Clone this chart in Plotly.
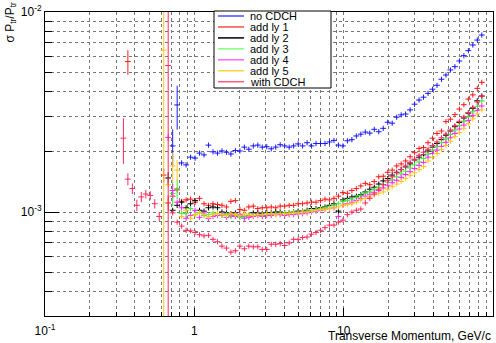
import plotly.graph_objects as go

# bin centres of transverse momentum (GeV/c), shared by all series
pt = [0.3350, 0.3589, 0.3846, 0.4121, 0.4416, 0.4732, 0.5070, 0.5433, 0.5821, 0.6237,
      0.6683, 0.7161, 0.7674, 0.8222, 0.8810, 0.9441, 1.0116, 1.0839, 1.1614, 1.2445,
      1.3335, 1.4289, 1.5311, 1.6406, 1.7579, 1.8836, 2.0184, 2.1627, 2.3174, 2.4831,
      2.6607, 2.8510, 3.0549, 3.2734, 3.5075, 3.7584, 4.0272, 4.3152, 4.6238, 4.9545,
      5.3088, 5.6885, 6.0954, 6.5313, 6.9984, 7.4989, 8.0353, 8.6099, 9.2257, 9.8855,
      10.593, 11.350, 12.162, 13.032, 13.964, 14.962, 16.032, 17.179, 18.408, 19.724,
      21.135, 22.646, 24.266, 26.002, 27.861, 29.854, 31.989, 34.277, 36.728, 39.355,
      42.170, 45.186, 48.417, 51.880, 55.590, 59.566, 63.826, 68.391, 73.282, 78.524,
      84.140]
FIRST_BIN = 17  # bin index of pt[0]

# sigma(Pt)/Pt in units of 1e-3 ; None = no point
no_cdch = [None] * 11 + [
    2.14, 3.43, 1.76, 1.72, 1.88, 1.86, 1.97, 1.93, 2.16, 2.00,
    1.97, 2.02, 1.99, 1.95, 2.03, 2.02, 2.11, 2.06, 2.14, 2.16,
    2.11, 2.12, 2.07, 2.11, 2.17, 2.14, 2.11, 2.14, 2.19, 2.14,
    2.22, 2.14, 2.20, 2.20, 2.20, 2.24, 2.28, 2.16, 2.14, 2.27,
    2.30, 2.40, 2.45, 2.51, 2.48, 2.59, 2.52, 2.62, 2.81, 2.78,
    2.98, 3.06, 3.09, 3.24, 3.46, 3.63, 3.75, 3.92, 4.11, 4.30,
    4.61, 4.84, 5.13, 5.33, 5.69, 6.05, 6.41, 6.84, 7.24, 7.67]
add_ly1 = [None, 5.65] + [None] * 7 + [1.53, 1.11] + [
    1.20, 1.29, 1.13, 1.15, 1.16, 1.12, 1.17, 1.10, 1.08, 1.10,
    1.09, 1.08, 1.06, 1.13, 1.14, 1.03, 1.02, 1.06, 1.07, 1.04,
    1.05, 1.05, 1.06, 1.05, 1.07, 1.07, 1.08, 1.08, 1.10, 1.10,
    1.11, 1.12, 1.12, 1.14, 1.16, 1.15, 1.17, 1.20, 1.25, 1.24,
    1.28, 1.31, 1.35, 1.39, 1.37, 1.42, 1.50, 1.51, 1.58, 1.62,
    1.70, 1.74, 1.80, 1.89, 1.98, 2.08, 2.10, 2.22, 2.34, 2.47,
    2.54, 2.83, 2.91, 3.07, 3.27, 3.44, 3.67, 3.85, 4.15, 4.45]
add_ly2 = [None] * 10 + [1.48] + [
    1.02, 1.08, 1.12, 1.05, 1.10, 1.14, 1.02, 1.01, 1.05, 1.06,
    1.05, 1.00, 0.99, 0.98, 0.99, 0.96, 0.95, 0.96, 0.99, 0.99,
    0.98, 0.99, 0.99, 1.00, 1.00, 0.99, 0.99, 1.00, 1.01, 1.01,
    1.02, 1.04, 1.04, 1.05, 1.06, 1.08, 1.10, 1.01, 1.15, 1.17,
    1.19, 1.20, 1.22, 1.26, 1.30, 1.33, 1.38, 1.43, 1.47, 1.53,
    1.58, 1.63, 1.68, 1.74, 1.82, 1.88, 1.93, 2.02, 2.11, 2.20,
    2.30, 2.42, 2.54, 2.67, 2.80, 2.95, 3.12, 3.30, 3.60, 3.80]
add_ly3 = [None] * 11 + [
    1.24, 1.31, 0.985, 0.98, 1.04, 0.97, 0.99, 0.96, 0.97, 0.99,
    0.98, 0.96, 0.97, 0.95, 0.96, 0.94, 0.95, 0.96, 0.95, 0.97,
    0.96, 0.98, 0.97, 0.98, 0.98, 0.99, 0.99, 1.00, 0.99, 1.00,
    1.01, 1.02, 1.03, 1.04, 1.05, 1.06, 1.08, 1.10, 1.13, 1.14,
    1.16, 1.18, 1.21, 1.24, 1.26, 1.29, 1.33, 1.37, 1.41, 1.45,
    1.50, 1.55, 1.60, 1.66, 1.72, 1.78, 1.85, 1.95, 2.04, 2.12,
    2.22, 2.32, 2.44, 2.57, 2.70, 2.84, 2.99, 3.17, 3.38, 3.59]
add_ly4 = [None] * 10 + [2.36] + [
    1.28, 1.12, 1.05, 0.93, 0.96, 1.02, 0.94, 0.99, 0.93, 0.95,
    0.96, 0.97, 0.94, 0.96, 0.95, 0.97, 0.93, 0.94, 0.95, 0.96,
    0.95, 0.96, 0.96, 0.97, 0.97, 0.96, 0.97, 0.97, 0.98, 0.98,
    0.99, 1.00, 1.01, 1.02, 1.03, 1.04, 1.05, 0.95, 1.08, 1.10,
    1.12, 1.14, 1.17, 1.20, 1.22, 1.25, 1.28, 1.32, 1.36, 1.40,
    1.44, 1.49, 1.54, 1.59, 1.65, 1.71, 1.77, 1.88, 1.96, 2.04,
    2.13, 2.23, 2.35, 2.47, 2.60, 2.72, 2.87, 3.03, 3.22, 3.39]
add_ly5 = [None] * 9 + [6.45, 1.37] + [
    1.70, 1.62, 0.95, 1.02, 0.93, 0.97, 0.99, 0.97, 0.95, 0.97,
    0.98, 0.97, 0.96, 0.98, 0.97, 0.96, 0.98, 0.97, 0.96, 0.97,
    0.97, 0.98, 0.98, 0.97, 0.98, 0.98, 0.98, 0.99, 0.99, 1.00,
    1.00, 1.01, 1.02, 1.03, 1.03, 1.04, 1.05, 1.06, 1.08, 1.09,
    1.10, 1.12, 1.15, 1.17, 1.19, 1.22, 1.24, 1.26, 1.30, 1.34,
    1.38, 1.42, 1.47, 1.52, 1.57, 1.63, 1.69, 1.80, 1.88, 1.96,
    2.05, 2.15, 2.26, 2.38, 2.50, 2.62, 2.76, 2.92, 3.09, 3.24]
with_cdch = [2.34, 1.46, 1.31, 1.08, 1.19, 1.23, 1.21, 1.10, 0.95, None, 5.40] + [
    0.99, 0.89, 0.85, 0.81, 0.805, 0.79, 0.77, 0.76, 0.765, 0.73,
    0.71, 0.675, 0.66, 0.63, 0.64, 0.675, 0.655, 0.675, 0.67, 0.67,
    0.65, 0.65, 0.69, 0.69, 0.695, 0.68, 0.70, 0.73, 0.73, 0.745,
    0.75, 0.775, 0.79, 0.81, 0.835, 0.86, 0.86, 0.89, 0.91, 0.97,
    1.00, 1.02, 1.035, 1.11, 1.17, 1.23, 1.30, 1.37, 1.44, 1.50,
    1.57, 1.63, 1.70, 1.77, 1.84, 1.92, 1.99, 2.06, 2.15, 2.24,
    2.35, 2.45, 2.57, 2.70, 2.84, 2.98, 3.14, 3.33, 3.55, 3.80]

# errors (1e-3 units) that differ from the typical ~3 % ones, keyed by bin index
big_err = {
    "no CDCH": {28: 0.45, 29: 0.85},
    "add ly 1": {18: 0.8, 26: 0.12, 27: 0.1},
    "add ly 2": {27: 0.1},
    "add ly 3": {28: 0.17, 29: 0.15},
    "add ly 4": {27: 0.1, 28: 0.1},
    "add ly 5": {26: 20.0, 28: 0.28, 29: 0.2},
    "with CDCH": {17: 0.6, 18: 0.1, 19: 0.08, 20: 0.07, 21: 0.07, 22: 0.06,
                  23: 0.06, 24: 0.06, 25: 0.05, 27: 20.0},
}
TYP_ERR = 0.03

series_names = ["no CDCH", "add ly 1", "add ly 2", "add ly 3", "add ly 4", "add ly 5", "with CDCH"]
series_vals = [no_cdch, add_ly1, add_ly2, add_ly3, add_ly4, add_ly5, with_cdch]
series_cols = ["#1a1aff", "#ff1a1a", "#000000", "#33ee33", "#ff22ff", "#ffc41a", "#ff2a5a"]
legend_cols = ["#4d4dff", "#ff4d4d", "#000000", "#80ff80", "#ff66ff", "#ffd040", "#ff5a80"]

fig = go.Figure()
for name, vals, col in zip(series_names, series_vals, series_cols):
    xs, ys, es = [], [], []
    for k, v in enumerate(vals):
        if v is None:
            continue
        b = FIRST_BIN + k
        xs.append(pt[k])
        ys.append(v * 1e-3)
        es.append(big_err[name].get(b, v * TYP_ERR) * 1e-3)
    fig.add_trace(go.Scatter(
        x=xs, y=ys, mode="markers", name=name, showlegend=False,
        marker=dict(size=1, color=col),
        error_y=dict(type="data", array=es, symmetric=True, color=col, thickness=1, width=0),
        error_x=dict(type="percent", value=4.5, color=col, thickness=1, width=0),
    ))

# axis geometry in pixels (for legend/annotation placement)
L, R, T, B = 45, 493, 12, 316
def PX(px):
    return (px - L) / (R - L)
def PY(py):
    return (B - py) / (B - T)

x_major = [0.1, 1, 10, 100]
x_major_txt = ["10<sup>-1</sup>", "1", "10", "10<sup>2</sup>"]
x_minor = [0.2, 0.3, 0.4, 0.5, 0.6, 0.7, 0.8, 0.9, 2, 3, 4, 5, 6, 7, 8, 9,
           20, 30, 40, 50, 60, 70, 80, 90]
y_major = [1e-3, 1e-2]
y_major_txt = ["10<sup>-3</sup>", "10<sup>-2</sup>"]
y_minor = [4e-4, 5e-4, 6e-4, 7e-4, 8e-4, 9e-4, 2e-3, 3e-3, 4e-3, 5e-3, 6e-3, 7e-3, 8e-3, 9e-3]

grid = dict(showgrid=True, gridcolor="#777777", griddash="dot", gridwidth=1)
fig.update_xaxes(type="log", range=[-1, 2], tickmode="array", tickvals=x_major, ticktext=x_major_txt,
                 ticks="inside", ticklen=8, tickcolor="black", showline=True, linecolor="black",
                 linewidth=1, mirror=True, zeroline=False, ticklabelstandoff=4,
                 minor=dict(tickvals=x_minor, ticks="inside", ticklen=4, tickcolor="black", **grid),
                 **grid)
fig.update_yaxes(type="log", range=[-3.52, -2], tickmode="array", tickvals=y_major, ticktext=y_major_txt,
                 ticks="inside", ticklen=14, tickcolor="black", showline=True, linecolor="black",
                 linewidth=1, mirror=True, zeroline=False,
                 minor=dict(tickvals=y_minor, ticks="inside", ticklen=7, tickcolor="black", **grid),
                 **grid)

shapes = [dict(type="rect", xref="paper", yref="paper", x0=PX(214), x1=PX(331), y0=PY(88), y1=PY(11),
               line=dict(color="black", width=1), fillcolor="white", layer="above")]
annotations = []
for j, (name, col) in enumerate(zip(series_names, legend_cols)):
    ry = 16 + 10.95 * j
    shapes.append(dict(type="line", xref="paper", yref="paper", x0=PX(218), x1=PX(244), y0=PY(ry), y1=PY(ry),
                       line=dict(color=col, width=1.5), layer="above"))
    annotations.append(dict(text=name, xref="paper", yref="paper", x=PX(248), y=PY(ry),
                            xanchor="left", yanchor="middle", showarrow=False,
                            font=dict(size=11, color="black")))

annotations.append(dict(text="Transverse Momentum, GeV/c", xref="paper", yref="paper", x=1.0, y=PY(335.5),
                        xanchor="right", yanchor="middle", showarrow=False, font=dict(size=12, color="black")))
annotations.append(dict(text="σ P<sub>tr</sub>/P<sub>tr</sub>", xref="paper", yref="paper", x=PX(11), y=PY(0),
                        xanchor="center", yanchor="top", textangle=-90, showarrow=False,
                        font=dict(size=12, color="black")))

fig.update_layout(
    width=496, height=343, margin=dict(l=L, r=496 - R, t=T, b=343 - B),
    plot_bgcolor="white", paper_bgcolor="white",
    font=dict(family="Liberation Sans, Arial, sans-serif", size=12, color="black"),
    showlegend=False, shapes=shapes, annotations=annotations,
)
fig.write_html("out.html")
